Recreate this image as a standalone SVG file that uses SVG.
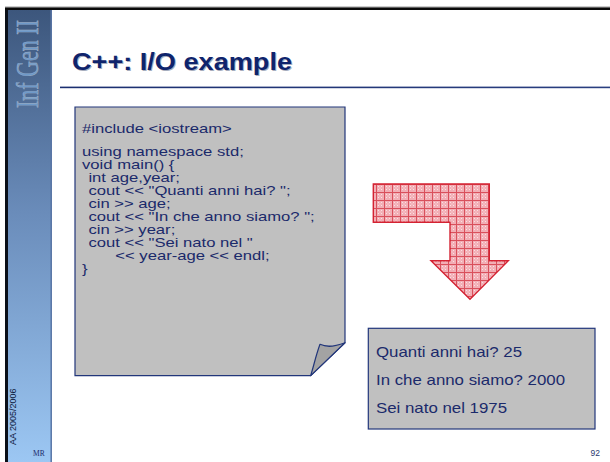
<svg xmlns="http://www.w3.org/2000/svg" width="610" height="462" viewBox="0 0 610 462">
  <defs>
    <linearGradient id="side" x1="0" y1="0" x2="0" y2="1">
      <stop offset="0" stop-color="#3c567c"/>
      <stop offset="0.45" stop-color="#6a8cba"/>
      <stop offset="1" stop-color="#9cc7f3"/>
    </linearGradient>
    <linearGradient id="rule" x1="0" y1="0" x2="1" y2="0">
      <stop offset="0" stop-color="#1b2f70"/>
      <stop offset="1" stop-color="#2a3f80"/>
    </linearGradient>
    <pattern id="hatch" width="8" height="8" patternUnits="userSpaceOnUse">
      <rect width="8" height="8" fill="#f2aeb5"/>
      <path d="M0 0.5H8M0.5 0V8" stroke="#d9505c" stroke-width="1"/>
      <path d="M2 2h1v1h-1zM5 2h1v1h-1zM2 5h1v1h-1zM5 5h1v1h-1zM3.5 3.5h1v1h-1z" fill="#fbe0e3"/>
    </pattern>
    <style>
      .code { font-family: "Liberation Sans", Arial, sans-serif; font-size: 13px; fill: #1b2a6b; }
      .out { font-family: "Liberation Sans", Arial, sans-serif; font-size: 15px; fill: #1b2a6b; }
      .box { fill: #c0c0c0; stroke: #22367a; stroke-width: 1.2; }
      .title { font-family: "Liberation Sans", Arial, sans-serif; font-size: 24px; font-weight: bold; }
    </style>
  </defs>

  <rect width="610" height="462" fill="#ffffff"/>

  <!-- left sidebar -->
  <g id="sidebar">
    <rect x="5" y="9" width="47" height="453" fill="url(#side)"/>
    <rect x="5" y="9" width="3" height="453" fill="#0a0f18"/>
    <line x1="51.2" y1="10" x2="51.2" y2="462" stroke="#5a77a6" stroke-width="1.5"/>
    <text transform="translate(38,108) rotate(-90)" x="0" y="0" textLength="88" lengthAdjust="spacingAndGlyphs" font-family="'Liberation Serif', 'Times New Roman', serif" font-size="32" fill="#6e99c9" stroke="#a2b2c6" stroke-width="0.5">Inf Gen II</text>
    <text transform="translate(16,445) rotate(-90)" x="0" y="0" font-family="'Liberation Sans', Arial, sans-serif" font-size="9" fill="#0d1a40">AA 2005/2006</text>
    <text x="33" y="456" font-family="'Liberation Serif', 'Times New Roman', serif" font-size="7.5" fill="#1b2a6b">MR</text>
  </g>

  <!-- top bar -->
  <rect x="5" y="6.5" width="605" height="1.2" fill="#9a9a9a"/>
  <rect x="5" y="7.5" width="605" height="2.5" fill="#0a0a0a"/>

  <!-- title -->
  <g id="title">
    <text class="title" x="73" y="71" textLength="220" lengthAdjust="spacingAndGlyphs" fill="#a6adbd">C++: I/O example</text>
    <text class="title" x="72" y="70" textLength="220" lengthAdjust="spacingAndGlyphs" fill="#0f246c">C++: I/O example</text>
    <rect x="60" y="86.6" width="550" height="1.6" fill="url(#rule)"/>
  </g>

  <!-- code note -->
  <g id="code">
    <path class="box" d="M75 107H345V342.7L310.7 375.6H75Z"/>
    <path d="M310.7 375.6C314 365 316 355 320 344.3C328 348 336 346 345 342.7Z" fill="#a3a3a3" stroke="#22367a" stroke-width="1.2" stroke-linejoin="round"/>
    <g transform="translate(82,0) scale(1.28,1)">
      <text class="code" x="0" y="133">#include &lt;iostream&gt;</text>
      <text class="code" x="0" y="156">using namespace std;</text>
      <text class="code" x="0" y="169">void main() {</text>
      <text class="code" x="5" y="182">int age,year;</text>
      <text class="code" x="5" y="195">cout &lt;&lt; "Quanti anni hai? ";</text>
      <text class="code" x="5" y="208">cin &gt;&gt; age;</text>
      <text class="code" x="5" y="221">cout &lt;&lt; "In che anno siamo? ";</text>
      <text class="code" x="5" y="234">cin &gt;&gt; year;</text>
      <text class="code" x="5" y="247">cout &lt;&lt; "Sei nato nel "</text>
      <text class="code" x="26" y="260">&lt;&lt; year-age &lt;&lt; endl;</text>
      <text class="code" x="0" y="273">}</text>
    </g>
  </g>

  <!-- arrow -->
  <g id="arrow">
    <path d="M373.3 184H489.3V260.7H508.3L470 299.3L431 260.7H450V222.3H373.3Z" fill="url(#hatch)" stroke="#d42232" stroke-width="1.4" stroke-linejoin="miter"/>
  </g>

  <!-- output -->
  <g id="output">
    <rect class="box" x="368.3" y="328.3" width="226.7" height="100.7"/>
    <text class="out" x="376" y="357" textLength="146" lengthAdjust="spacingAndGlyphs">Quanti anni hai? 25</text>
    <text class="out" x="376" y="385" textLength="189" lengthAdjust="spacingAndGlyphs">In che anno siamo? 2000</text>
    <text class="out" x="376" y="413" textLength="131" lengthAdjust="spacingAndGlyphs">Sei nato nel 1975</text>
  </g>

  <text x="600" y="456" text-anchor="end" font-family="'Liberation Sans', Arial, sans-serif" font-size="8.5" fill="#2a3a70">92</text>
</svg>
